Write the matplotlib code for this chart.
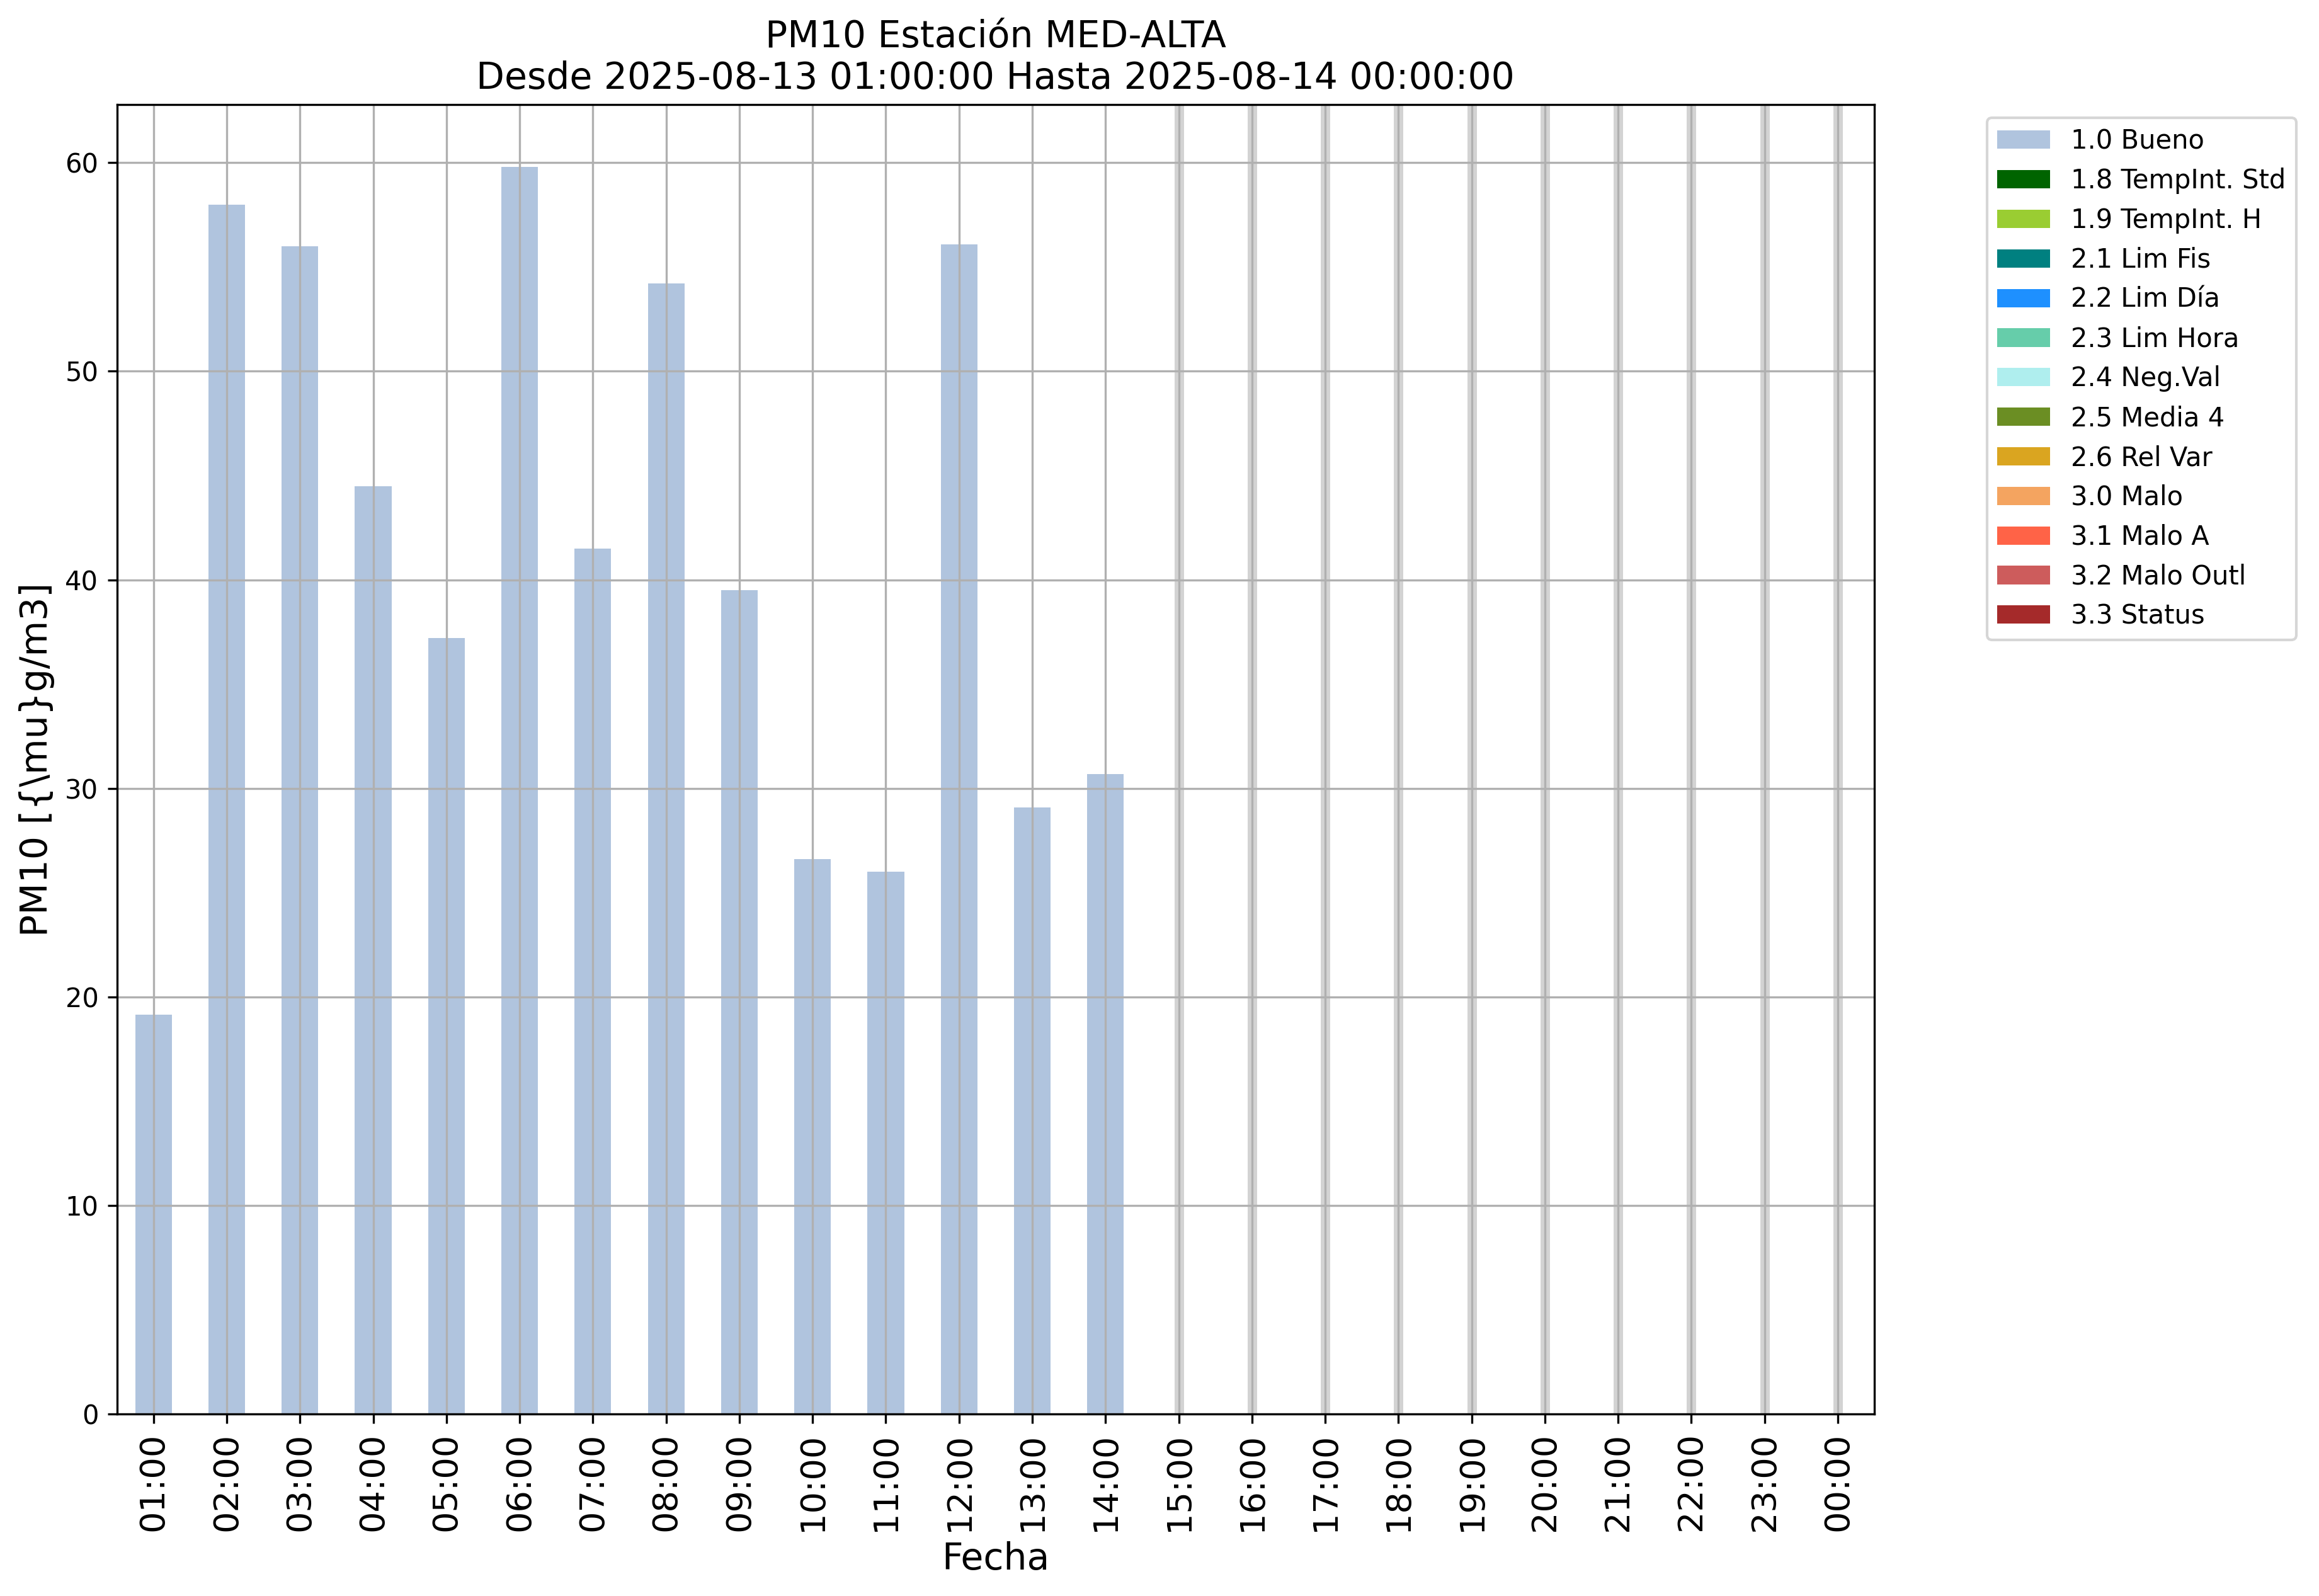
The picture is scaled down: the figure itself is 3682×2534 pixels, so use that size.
"""PM10 hourly bars for station MED-ALTA, coloured by validation flag"""
import numpy as np
import matplotlib
matplotlib.use('Agg')
import matplotlib.pyplot as plt

# Data ---
hours = ['01:00', '02:00', '03:00', '04:00', '05:00', '06:00', '07:00', '08:00',
         '09:00', '10:00', '11:00', '12:00', '13:00', '14:00', '15:00', '16:00',
         '17:00', '18:00', '19:00', '20:00', '21:00', '22:00', '23:00', '00:00']
bueno = [19.15, 58.0, 56.0, 44.5, 37.2, 59.8, 41.5, 54.2, 39.5, 26.6, 26.0, 56.1,
         29.1, 30.7, None, None, None, None, None, None, None, None, None, None]

flag_labels = ['1.0 Bueno', '1.8 TempInt. Std', '1.9 TempInt. H', '2.1 Lim Fis',
               '2.2 Lim Día', '2.3 Lim Hora', '2.4 Neg.Val', '2.5 Media 4',
               '2.6 Rel Var', '3.0 Malo', '3.1 Malo A', '3.2 Malo Outl', '3.3 Status']
flag_colors = ['lightsteelblue', 'darkgreen', 'yellowgreen', 'teal', 'dodgerblue',
               'mediumaquamarine', 'paleturquoise', 'olivedrab', 'goldenrod',
               'sandybrown', 'tomato', 'indianred', 'brown']

title = 'PM10 Estación MED-ALTA\nDesde 2025-08-13 01:00:00 Hasta 2025-08-14 00:00:00'
ylabel = 'PM10 [{\\mu}g/m3]'
xlabel = 'Fecha'


def run():
    fig, ax = plt.subplots(figsize=(3682 / 300, 2534 / 300), dpi=300)
    fig.subplots_adjust(left=0.0504, right=0.8083, top=0.9345, bottom=0.114)

    x = np.arange(len(hours))
    values = np.array([np.nan if v is None else v for v in bueno], dtype=float)

    # stacked bars per flag: only "Bueno" has data in this period
    bottom = np.zeros(len(hours))
    for label, color in zip(flag_labels, flag_colors):
        series = np.nan_to_num(values) if label == flag_labels[0] else np.zeros(len(hours))
        ax.bar(x, series, width=0.5, bottom=bottom, color=color, label=label)
        bottom = bottom + series

    # hours without data
    for xi in x[np.isnan(values)]:
        ax.axvline(xi, color='lightgray', lw=3.6, zorder=0.9)

    # same limits pandas/matplotlib autoscale would give (5% headroom)
    ax.set_ylim(0, np.nanmax(values) * 1.05)
    ax.set_xlim(-0.5, len(hours) - 0.5)
    ax.set_xticks(x)
    ax.set_xticklabels(hours, rotation=90, fontsize=13)
    ax.tick_params(axis='y', labelsize=10)
    ax.grid(True)
    ax.set_title(title, fontsize=14)
    ax.set_xlabel(xlabel, fontsize=14)
    ax.set_ylabel(ylabel, fontsize=14)
    ax.legend(bbox_to_anchor=(1.0565, 1), loc='upper left', fontsize=10)

    fig.savefig('out.png', dpi=300)


if __name__ == '__main__':
    run()
